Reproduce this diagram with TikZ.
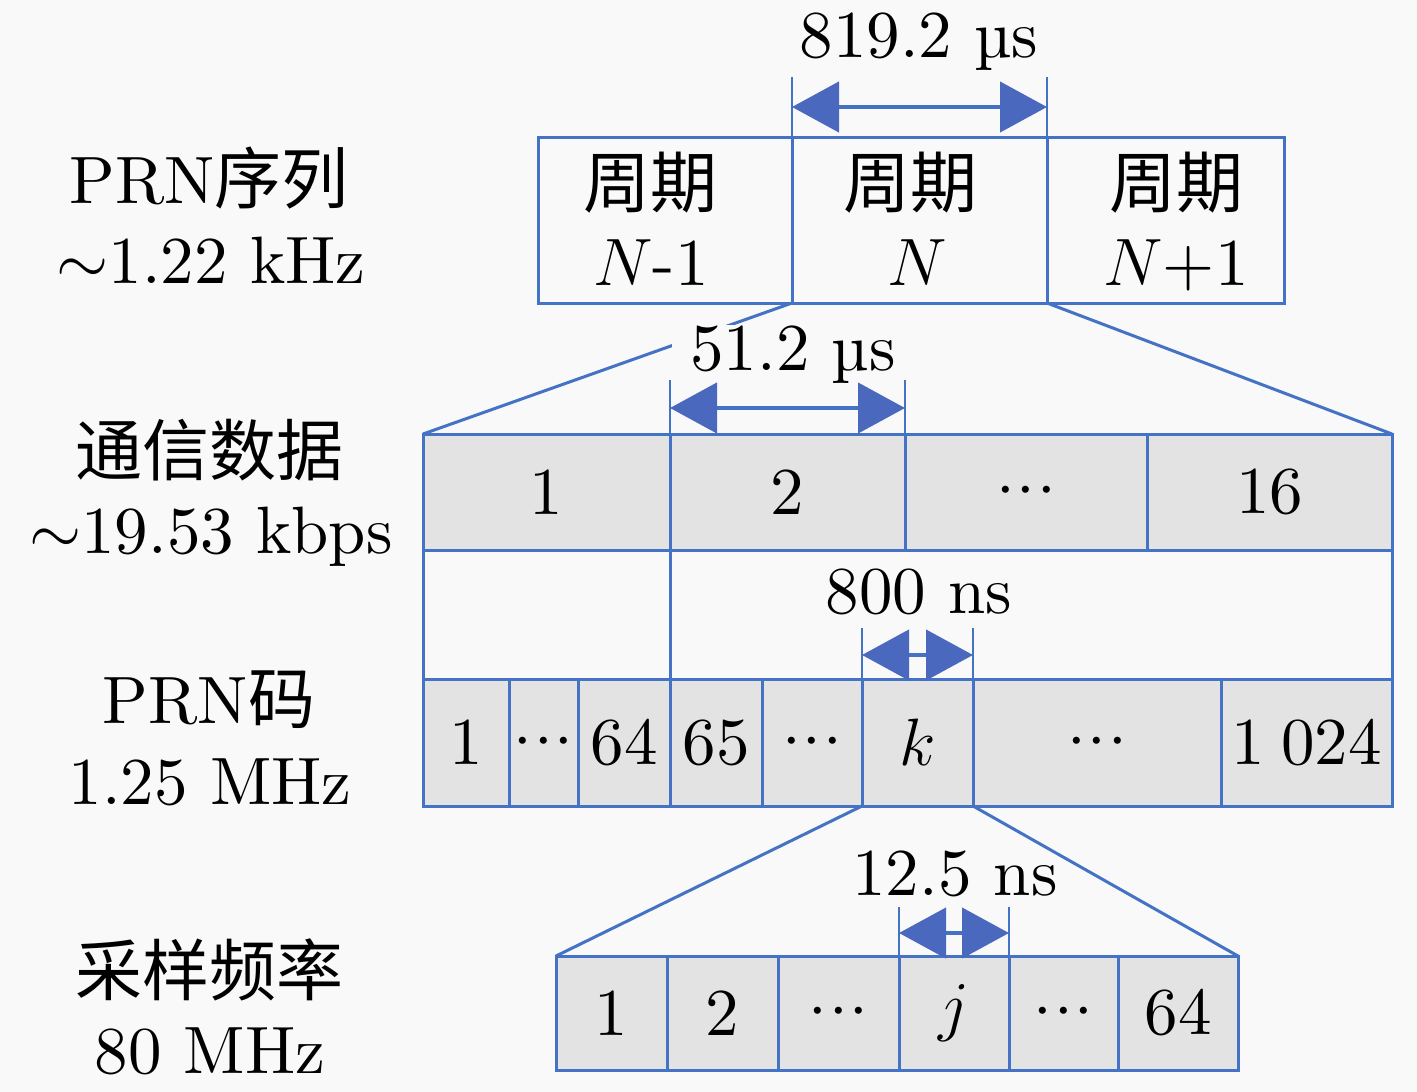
\RequirePackage{fix-cm}
\documentclass[tikz,border=0pt]{standalone}
\usepackage{fontspec}
\setmainfont{lmroman10-regular.otf}[ItalicFont=lmroman10-italic.otf, BoldFont=lmroman10-bold.otf]
\newfontfamily\cjk{Noto Sans CJK SC}
\usetikzlibrary{arrows.meta}
\definecolor{lineblue}{HTML}{4472C4}
\definecolor{arrowblue}{HTML}{4A68BE}
\definecolor{cellgray}{HTML}{E3E3E3}
\definecolor{bgcol}{HTML}{F9F9F9}
\newcommand\mkcell[7]{\node[cellbox, fill=#6, minimum width={(#3-#2)*1pt}, minimum height={(#5-#4)*1pt}] (#1) at ({(#2+#3)/2},{(#4+#5)/2}) {#7};}
\newcommand\dts{${\cdot}\mkern0.5mu{\cdot}\mkern0.5mu{\cdot}$}
\begin{document}
\begin{tikzpicture}[x=1pt,y=-1pt,
  txt/.style={font=\fontsize{67}{72}\selectfont, inner sep=0pt, outer sep=0pt},
  cellbox/.style={txt, draw=lineblue, line width=3pt, rectangle},
  conn/.style={draw=lineblue, line width=3pt},
  extline/.style={draw=lineblue, line width=2.5pt},
  dimarrow/.style={draw=lineblue, line width=4.5pt,
    {Triangle[length=47pt,width=50pt,color=arrowblue]}-{Triangle[length=47pt,width=50pt,color=arrowblue]}},
  masklabel/.style={txt, fill=bgcol, inner xsep=18pt, inner ysep=0pt}
]
\fill[bgcol] (0,0) rectangle (1417,1092);
\useasboundingbox (0,0) rectangle (1417,1092);

% row labels
\node[txt, anchor=base] (L1a) at (209,203) {PRN{\cjk 序列}};
\node[txt, anchor=base] (L1b) at (211,283) {$\sim$1.22 kHz};
\node[txt, anchor=base] (L2a) at (209,475) {\cjk 通信数据};
\node[txt, anchor=base] (L2b) at (211,553) {$\sim$19.53 kbps};
\node[txt, anchor=base] (L3a) at (209,723) {PRN{\cjk 码}};
\node[txt, anchor=base] (L3b) at (210,804) {1.25 MHz};
\node[txt, anchor=base] (L4a) at (209,995) {\cjk 采样频率};
\node[txt, anchor=base] (L4b) at (210,1073) {80 MHz};

% row 1
\mkcell{a1}{538}{792}{137}{303}{bgcol}{}
\mkcell{a2}{792}{1047}{137}{303}{bgcol}{}
\mkcell{a3}{1047}{1284}{137}{303}{bgcol}{}
\node[txt, anchor=base] (t1a) at (650,207) {\cjk 周期};
\node[txt, anchor=base] (t1b) at (651,285) {$N$-1};
\node[txt, anchor=base] (t2a) at (910,207) {\cjk 周期};
\node[txt, anchor=base] (t2b) at (917,285) {$N$};
\node[txt, anchor=base] (t3a) at (1176,207) {\cjk 周期};
\node[txt, anchor=base] (t3b) at (1176,285) {$N$+1};

% row 2
\mkcell{b1}{423}{670}{434}{550}{cellgray}{1}
\mkcell{b2}{670}{905}{434}{550}{cellgray}{2}
\mkcell{b3}{905}{1147}{434}{550}{cellgray}{\dts}
\mkcell{b4}{1147}{1392}{434}{550}{cellgray}{16}

% row 3
\mkcell{c1}{423}{509}{679}{806}{cellgray}{1}
\mkcell{c2}{509}{578}{679}{806}{cellgray}{\dts}
\mkcell{c3}{578}{670}{679}{806}{cellgray}{64}
\mkcell{c4}{670}{762}{679}{806}{cellgray}{65}
\mkcell{c5}{762}{862}{679}{806}{cellgray}{\dts}
\mkcell{c6}{862}{973}{679}{806}{cellgray}{$k$}
\mkcell{c7}{973}{1221}{679}{806}{cellgray}{\dts}
\mkcell{c8}{1221}{1392}{679}{806}{cellgray}{1\hspace{0.25em}024}

% row 4
\mkcell{e1}{556}{667}{956}{1070}{cellgray}{1}
\mkcell{e2}{667}{778}{956}{1070}{cellgray}{2}
\mkcell{e3}{778}{899}{956}{1070}{cellgray}{\dts}
\mkcell{e4}{899}{1009}{956}{1070}{cellgray}{$j$}
\mkcell{e5}{1009}{1118}{956}{1070}{cellgray}{\dts}
\mkcell{e6}{1118}{1238}{956}{1070}{cellgray}{64}

% connectors
\draw[conn] (a2.south west) -- (b1.north west);
\draw[conn] (a3.south west) -- (b4.north east);
\draw[conn] (b1.south west) -- (c1.north west);
\draw[conn] (b1.south east) -- (c3.north east);
\draw[conn] (b4.south east) -- (c8.north east);
\draw[conn] (c6.south west) -- (e1.north west);
\draw[conn] (c6.south east) -- (e6.north east);

% dimension labels
\node[txt, anchor=base] (d1) at (919,57) {819.2 µs};
\node[masklabel, anchor=base] (d2) at (793,370) {51.2 µs};
\node[txt, anchor=base] (d3) at (919,613) {800 ns};
\node[txt, anchor=base] (d4) at (955,895) {12.5 ns};

% extension lines
\coordinate (x1l) at (792,77);  \coordinate (x1r) at (1047,77);
\coordinate (x2l) at (670,380); \coordinate (x2r) at (905,380);
\coordinate (x3l) at (862,628); \coordinate (x3r) at (973,628);
\coordinate (x4l) at (899,907); \coordinate (x4r) at (1009,907);
\draw[extline] (a2.north west) -- (x1l);
\draw[extline] (a2.north east) -- (x1r);
\draw[extline] (b2.north west) -- (x2l);
\draw[extline] (b2.north east) -- (x2r);
\draw[extline] (c6.north west) -- (x3l);
\draw[extline] (c6.north east) -- (x3r);
\draw[extline] (e4.north west) -- (x4l);
\draw[extline] (e4.north east) -- (x4r);

% arrows
\coordinate (p1l) at (792,107);  \coordinate (p1r) at (1047,107);
\coordinate (p2l) at (670,408);  \coordinate (p2r) at (905,408);
\coordinate (p3l) at (862,655);  \coordinate (p3r) at (973,655);
\coordinate (p4l) at (899,933);  \coordinate (p4r) at (1009,933);
\draw[dimarrow] (p1l) -- (p1r);
\draw[dimarrow] (p2l) -- (p2r);
\draw[dimarrow] (p3l) -- (p3r);
\draw[dimarrow] (p4l) -- (p4r);
\end{tikzpicture}
\end{document}
